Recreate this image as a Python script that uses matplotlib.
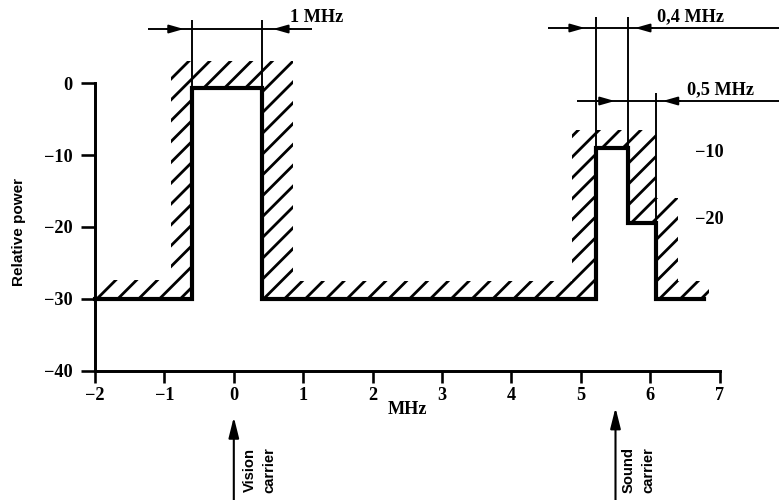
import matplotlib.pyplot as plt
from matplotlib.patches import Polygon

plt.rcParams['hatch.linewidth'] = 1.6

# axis ticks
freq_ticks = list(range(-2, 8))
power_ticks = [-40, -30, -20, -10, 0]

# spectrum mask (thick line), MHz / relative power
mask_freq = [-2, -0.6, -0.6, 0.4, 0.4, 5.22, 5.22, 5.68, 5.68, 6.09, 6.09, 6.78]
mask_level = [-30, -30, -0.7, -0.7, -30, -30, -9, -9, -19.5, -19.5, -30, -30]

# outer edge of the hatched band, traced back from right to left
limit_freq = [6.85, 6.85, 6.4, 6.4, 6.09, 6.09, 4.88, 4.88, 0.85, 0.85, -0.9, -0.9, -2]
limit_level = [-30, -27.5, -27.5, -16, -16, -6.5, -6.5, -27.5, -27.5, 3, 3, -27.4, -27.4]

# bandwidth dimensions
dim_labels = ['1 MHz', '0,4 MHz', '0,5 MHz']
dim_edges = [(-0.6, 0.4), (5.22, 5.68), (5.68, 6.09)]

side_labels = ['\u221210', '\u221220']
side_levels = [-9.6, -19.0]

carrier_names = ['Vision\ncarrier', 'Sound\ncarrier']
carrier_freq = [0, 5.5]

serif = 'Liberation Serif'
sans = 'Liberation Sans'

fig = plt.figure(figsize=(6.232, 4.0), dpi=125)
ax = fig.add_axes([0, 0, 1, 1])
ax.set_xlim(-3.369, 7.856)
ax.set_ylim(-57.92, 11.53)

# hatched forbidden region
poly = list(zip(mask_freq, mask_level)) + list(zip(limit_freq, limit_level))
ax.add_patch(Polygon(poly, closed=True, facecolor='none', edgecolor='black',
                     linewidth=0, hatch='//'))
ax.plot(mask_freq, mask_level, color='black', lw=2.4, solid_joinstyle='miter')

# axes
for s in ['top', 'right']:
    ax.spines[s].set_visible(False)
ax.spines['left'].set_position(('data', -2))
ax.spines['left'].set_bounds(-40, 0)
ax.spines['bottom'].set_position(('data', -40))
ax.spines['bottom'].set_bounds(-2, 7)
ax.spines['left'].set_linewidth(1.7)
ax.spines['bottom'].set_linewidth(1.7)
ax.set_xticks(freq_ticks)
ax.set_yticks(power_ticks)
ax.set_xticklabels([f'{t}'.replace('-', '\u2212') for t in freq_ticks])
ax.set_yticklabels([f'{t}'.replace('-', '\u2212') for t in power_ticks])
ax.tick_params(axis='x', direction='out', length=7, width=1.5, pad=2)
ax.tick_params(axis='y', direction='out', length=8, width=1.5, pad=5)
for lab in ax.get_xticklabels() + ax.get_yticklabels():
    lab.set_fontfamily(serif)
    lab.set_fontweight('bold')
    lab.set_fontsize(10.5)

ax.text(2.5, -45.4, 'MHz', ha='center', va='center', family=serif,
        weight='bold', fontsize=10.5)
ax.text(-3.095, -20.7, 'Relative power', rotation=90, ha='center', va='center',
        family=sans, weight='bold', fontsize=8.8)

# dimension lines
head = dict(arrowstyle='-|>,head_length=0.7,head_width=0.2', color='black',
            lw=1.1, shrinkA=0, shrinkB=0)


def dim_arrow(x_tip, y, direction):
    ax.annotate('', xy=(x_tip, y), xytext=(x_tip - direction * 0.25, y),
                arrowprops=head)


# 1 MHz
ax.hlines(7.5, -1.236, 1.127, color='black', lw=1.1)
ax.vlines(dim_edges[0], -0.7, 8.75, color='black', lw=1.1)
dim_arrow(-0.72, 7.5, 1)
dim_arrow(0.565, 7.5, -1)
ax.text(0.81, 9.03, dim_labels[0], ha='left', va='center', family=serif,
        weight='bold', fontsize=10.5)

# 0,4 MHz
ax.hlines(7.64, 4.53, 7.856, color='black', lw=1.1)
ax.vlines(dim_edges[1], -9, 9.17, color='black', lw=1.1)
dim_arrow(5.06, 7.64, 1)
dim_arrow(5.78, 7.64, -1)
ax.text(6.10, 9.17, dim_labels[1], ha='left', va='center', family=serif,
        weight='bold', fontsize=10.5)

# 0,5 MHz
ax.hlines(-2.5, 4.95, 7.856, color='black', lw=1.1)
ax.vlines(dim_edges[2][1], -19.5, -1.4, color='black', lw=1.1)
dim_arrow(5.49, -2.5, 1)
dim_arrow(6.18, -2.5, -1)
ax.text(6.53, -0.97, dim_labels[2], ha='left', va='center', family=serif,
        weight='bold', fontsize=10.5)

for lab, lev in zip(side_labels, side_levels):
    ax.text(6.65, lev, lab, ha='left', va='center', family=serif,
            weight='bold', fontsize=10.5)

# carrier arrows
carrier_tip = [-46.4, -45.1]
carrier_text_x = [0.37, 5.83]
for name, f, tip, tx in zip(carrier_names, carrier_freq, carrier_tip, carrier_text_x):
    ax.annotate('', xy=(f, tip), xytext=(f, -57.92),
                arrowprops=dict(arrowstyle='-|>,head_length=1.0,head_width=0.25',
                                color='black', lw=1.2, shrinkA=0, shrinkB=0))
    ax.text(tx, -57.0, name, rotation=90, ha='center', va='bottom',
            family=sans, weight='bold', fontsize=8.5, linespacing=1.5)

fig.savefig('out.png', dpi=125)
